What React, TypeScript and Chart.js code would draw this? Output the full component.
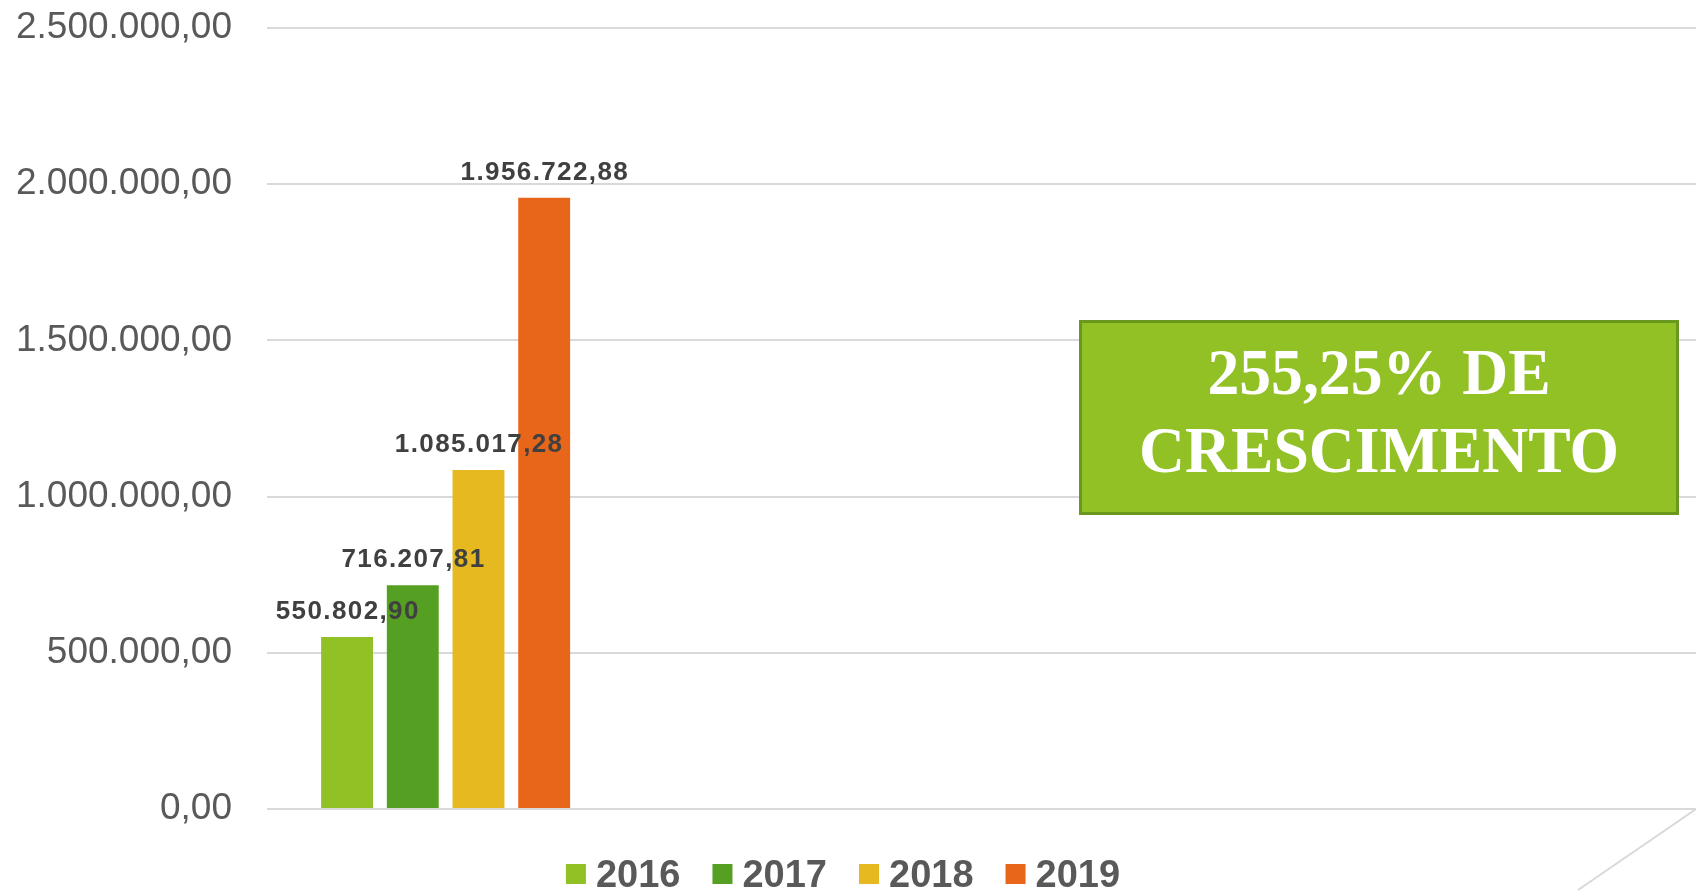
import React, { useEffect, useRef } from "react";
import { Chart, registerables } from "chart.js";

Chart.register(...registerables);

// ---- data ----
const categories = ["Faturamento", "", "", ""];
const seriesNames = ["2016", "2017", "2018", "2019"];
const values2016 = [550802.9, null, null, null];
const values2017 = [716207.81, null, null, null];
const values2018 = [1085017.28, null, null, null];
const values2019 = [1956722.88, null, null, null];
const seriesColors = ["#92C126", "#55A022", "#E5B91F", "#E86619"];
const yTickValues = [0, 500000, 1000000, 1500000, 2000000, 2500000];
const calloutLines = ["255,25% DE", "CRESCIMENTO"];

function fmt(v: number): string {
  const [i, d] = Math.abs(v).toFixed(2).split(".");
  return i.replace(/\B(?=(\d{3})+(?!\d))/g, ".") + "," + d;
}

const SANS = "'Liberation Sans', Arial, sans-serif";
const SERIF = "'Liberation Serif', 'Times New Roman', serif";

const dataLabelPlugin = {
  id: "dataLabels",
  afterDatasetsDraw(chart: any) {
    const ctx = chart.ctx;
    ctx.save();
    ctx.font = `bold 26px ${SANS}`;
    const spacing = 1.4;
    (ctx as any).letterSpacing = `${spacing}px`;
    ctx.fillStyle = "#404040";
    ctx.textAlign = "center";
    ctx.textBaseline = "alphabetic";
    chart.data.datasets.forEach((ds: any, di: number) => {
      const meta = chart.getDatasetMeta(di);
      meta.data.forEach((el: any, i: number) => {
        const v = ds.data[i];
        if (v == null) return;
        ctx.fillText(fmt(v), el.x + spacing / 2, el.y - 18);
      });
    });
    ctx.restore();
  },
};

const decorPlugin = {
  id: "decor",
  afterDraw(chart: any) {
    const ctx = chart.ctx;
    const { right, bottom } = chart.chartArea;
    ctx.save();
    // floor edge line
    ctx.strokeStyle = "#d9d9d9";
    ctx.lineWidth = 2;
    ctx.beginPath();
    ctx.moveTo(right, bottom);
    ctx.lineTo(right - 118, bottom + 81);
    ctx.stroke();

    // custom legend
    ctx.font = `bold 38px ${SANS}`;
    ctx.textBaseline = "alphabetic";
    ctx.textAlign = "left";
    const box = 20;
    const gap = 10;
    const itemGap = 32;
    const widths = chart.data.datasets.map((d: any) => ctx.measureText(d.label).width);
    const total =
      widths.reduce((a: number, w: number) => a + box + gap + w, 0) + itemGap * (widths.length - 1);
    let x = 843 - total / 2;
    chart.data.datasets.forEach((d: any, i: number) => {
      ctx.fillStyle = d.backgroundColor;
      ctx.fillRect(x, 864, box, box);
      ctx.fillStyle = "#595959";
      ctx.fillText(d.label, x + box + gap, 887);
      x += box + gap + widths[i] + itemGap;
    });

    // callout box
    const bx = 1080.5, by = 321.5, bw = 597, bh = 192;
    ctx.fillStyle = "#92C126";
    ctx.fillRect(bx, by, bw, bh);
    ctx.strokeStyle = "#6A971D";
    ctx.lineWidth = 3;
    ctx.strokeRect(bx, by, bw, bh);
    ctx.fillStyle = "#ffffff";
    ctx.font = `bold 66px ${SERIF}`;
    ctx.textAlign = "center";
    const cx = 1379;
    const baselines = [394, 472];
    calloutLines.forEach((t, i) => {
      ctx.save();
      ctx.translate(cx, baselines[i]);
      ctx.scale(0.965, 1);
      ctx.fillText(t, 0, 0);
      ctx.restore();
    });
    ctx.restore();
  },
};

export default function App() {
  const canvasRef = useRef<HTMLCanvasElement | null>(null);

  useEffect(() => {
    if (!canvasRef.current) return;
    const seriesValues = [values2016, values2017, values2018, values2019];
    const chart = new Chart(canvasRef.current, {
      type: "bar",
      data: {
        labels: categories,
        datasets: seriesNames.map((name, i) => ({
          label: name,
          data: seriesValues[i],
          backgroundColor: seriesColors[i],
          borderWidth: 0,
          barPercentage: 0.79,
          categoryPercentage: 0.7356,
        })),
      },
      options: {
        animation: false,
        responsive: true,
        maintainAspectRatio: false,
        layout: { padding: { top: 28, bottom: 82, left: 0, right: 0 } },
        plugins: {
          legend: { display: false },
          tooltip: { enabled: false },
        },
        scales: {
          x: {
            type: "category",
            display: false,
            grid: { display: false },
          },
          y: {
            min: 0,
            max: 2500000,
            afterBuildTicks: (scale: any) => {
              scale.ticks = yTickValues.map((v) => ({ value: v }));
            },
            afterFit: (scale: any) => {
              scale.width = 267;
              scale.paddingTop = 0;
              scale.paddingBottom = 0;
            },
            border: { display: false },
            grid: {
              color: "#d9d9d9",
              lineWidth: 2,
              drawTicks: false,
            },
            ticks: {
              padding: 35,
              color: "#595959",
              font: { family: SANS, size: 37 },
              callback: (v: any) => fmt(Number(v)),
            },
          },
        },
      },
      plugins: [dataLabelPlugin, decorPlugin],
    });
    return () => chart.destroy();
  }, []);

  return (
    <div style={{ position: "fixed", left: 0, top: 0, width: 1696, height: 891, background: "#fff" }}>
      <canvas ref={canvasRef} />
    </div>
  );
}
